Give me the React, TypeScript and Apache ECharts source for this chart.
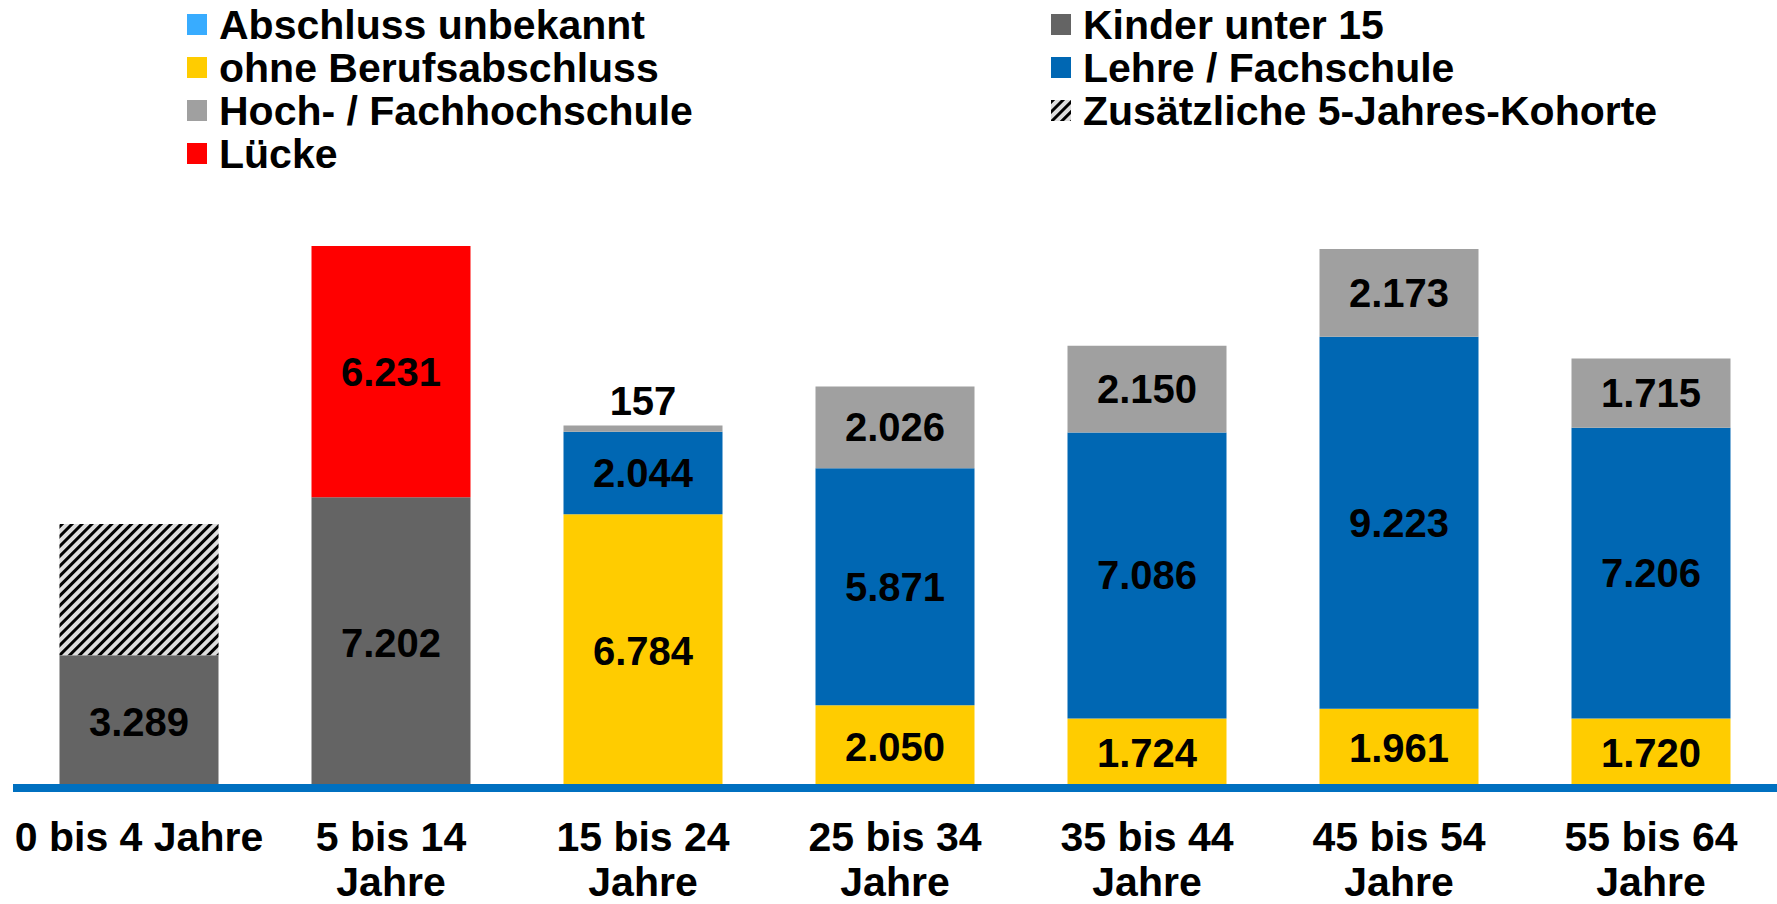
import React, { useEffect, useRef } from "react";
import * as echarts from "echarts";

const categories = [
  "0 bis 4 Jahre",
  "5 bis 14\nJahre",
  "15 bis 24\nJahre",
  "25 bis 34\nJahre",
  "35 bis 44\nJahre",
  "45 bis 54\nJahre",
  "55 bis 64\nJahre",
];

const abschlussUnbekannt = [0, 0, 0, 0, 0, 0, 0];
const kinderUnter15 = [3289, 7202, 0, 0, 0, 0, 0];
const ohneBerufsabschluss = [0, 0, 6784, 2050, 1724, 1961, 1720];
const lehreFachschule = [0, 0, 2044, 5871, 7086, 9223, 7206];
const hochFachhochschule = [0, 0, 157, 2026, 2150, 2173, 1715];
const zusaetzlicheKohorte = [3250, 0, 0, 0, 0, 0, 0];
const luecke = [0, 6231, 0, 0, 0, 0, 0];

const legendLeft = ["Abschluss unbekannt", "ohne Berufsabschluss", "Hoch- / Fachhochschule", "Lücke"];
const legendRight = ["Kinder unter 15", "Lehre / Fachschule", "Zusätzliche 5-Jahres-Kohorte"];

const FONT = "'Liberation Sans', Arial, sans-serif";

const fmt = (v: number) => String(v).replace(/\B(?=(\d{3})+(?!\d))/g, ".");

const labelStyle = {
  show: true,
  position: "inside",
  color: "#000",
  fontFamily: FONT,
  fontWeight: "bold",
  fontSize: 40,
  formatter: (p: any) => (p.value ? fmt(p.value) : ""),
};

export default function App() {
  const ref = useRef<HTMLDivElement>(null);

  useEffect(() => {
    if (!ref.current) return;
    const chart = echarts.init(ref.current, null, { renderer: "svg" });

    const mk = (name: string, data: any[], color: string, extra: any = {}) => ({
      name,
      type: "bar",
      stack: "total",
      barWidth: 159,
      data,
      itemStyle: { color, ...(extra.itemStyle || {}) },
      label: { ...labelStyle, ...(extra.label || {}) },
      emphasis: { disabled: true },
    });

    const hochData = hochFachhochschule.map((v) =>
      v > 0 && v < 500 ? { value: v, label: { position: "top", distance: 4 } } : v
    );

    const legendCommon = {
      orient: "vertical",
      top: 3,
      padding: 0,
      itemWidth: 20,
      itemHeight: 21,
      itemGap: 0,
      icon: "rect",
      selectedMode: false,
      textStyle: {
        fontFamily: FONT,
        fontWeight: "bold",
        fontSize: 41,
        color: "#000",
        lineHeight: 43,
        padding: [0, 0, 0, 7],
      },
    };

    chart.setOption({
      animation: false,
      backgroundColor: "#fff",
      legend: [
        { ...legendCommon, left: 187, data: legendLeft },
        { ...legendCommon, left: 1051, data: legendRight },
      ],
      grid: { left: 13, top: 223, width: 1771, height: 569, containLabel: false },
      xAxis: {
        type: "category",
        data: categories,
        z: 10,
        axisTick: { show: false },
        axisLine: { show: true, lineStyle: { color: "#0070C0", width: 8, cap: "butt" } },
        axisLabel: {
          interval: 0,
          margin: 26,
          color: "#000",
          fontFamily: FONT,
          fontWeight: "bold",
          fontSize: 41,
          lineHeight: 45,
        },
      },
      yAxis: {
        type: "value",
        min: 0,
        max: 14000,
        show: false,
        splitLine: { show: false },
      },
      series: [
        mk("Abschluss unbekannt", abschlussUnbekannt, "#38ACFF"),
        mk("Kinder unter 15", kinderUnter15, "#646464"),
        mk("ohne Berufsabschluss", ohneBerufsabschluss, "#FFCC00"),
        mk("Lehre / Fachschule", lehreFachschule, "#0067B3"),
        mk("Hoch- / Fachhochschule", hochData, "#A0A0A0"),
        mk("Zusätzliche 5-Jahres-Kohorte", zusaetzlicheKohorte, "#DDDDDD", {
          label: { show: false },
          itemStyle: {
            decal: {
              symbol: "rect",
              symbolSize: 1,
              color: "#000000",
              dashArrayX: [1, 0],
              dashArrayY: [2.5, 3.8],
              rotation: -Math.PI / 4,
            },
          },
        }),
        mk("Lücke", luecke, "#FF0000"),
      ],
    });

    return () => chart.dispose();
  }, []);

  return (
    <div
      ref={ref}
      style={{ position: "fixed", left: 0, top: 0, width: 1777, height: 904 }}
    />
  );
}
